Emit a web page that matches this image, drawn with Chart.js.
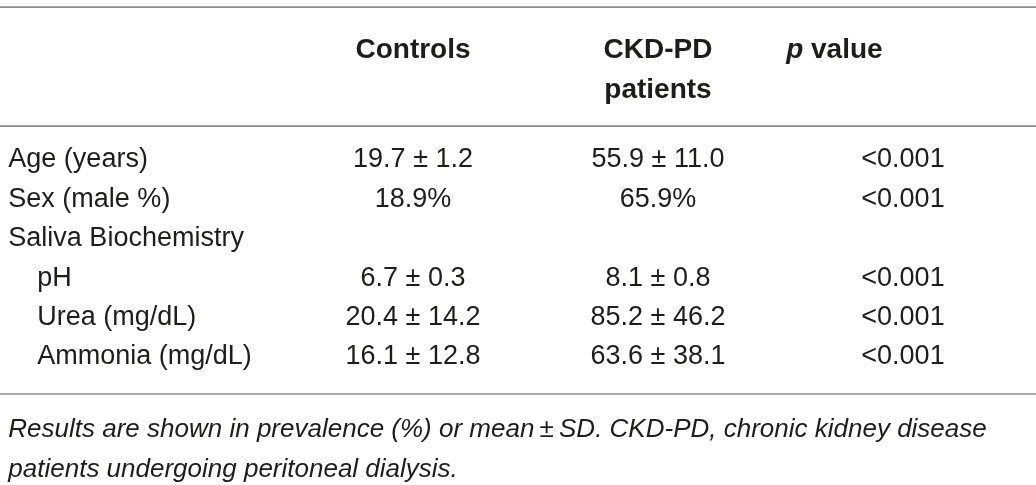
<!DOCTYPE html>
<html>
<head>
<meta charset="utf-8">
<script src="https://cdn.jsdelivr.net/npm/chart.js@4.4.1/dist/chart.umd.min.js"></script>
<style>
  html, body { margin: 0; padding: 0; background: #ffffff; }
  #wrap { width: 1036px; height: 485px; position: relative; }
</style>
</head>
<body>
<div id="wrap"><canvas id="tableChart"></canvas></div>
<script>
// Table content
const columnHeaders = [['Controls'], ['CKD-PD', 'patients'], ['p value']];
const rowLabels = ['Age (years)', 'Sex (male %)', 'Saliva Biochemistry', 'pH', 'Urea (mg/dL)', 'Ammonia (mg/dL)'];
const rowIndent = [0, 0, 0, 1, 1, 1];
const rowUnits = ['', '%', '', '', '', ''];
const controlsMean = [19.7, 18.9, null, 6.7, 20.4, 16.1];
const controlsSD = [1.2, null, null, 0.3, 14.2, 12.8];
const ckdMean = [55.9, 65.9, null, 8.1, 85.2, 63.6];
const ckdSD = [11.0, null, null, 0.8, 46.2, 38.1];
const pValues = ['<0.001', '<0.001', null, '<0.001', '<0.001', '<0.001'];
const footnote = [
    'Results are shown in prevalence (%) or mean\u2009\u00b1\u2009SD. CKD-PD, chronic kidney disease',
    'patients undergoing peritoneal dialysis.'
];

// layout (scale units: columns on x, rows on y)
const X_MIN = -0.686, X_MAX = 3.543;
const Y_MIN = -4.01, Y_MAX = 8.30;
const LABEL_X = -0.652;
const INDENT = 0.118;
const HEADER_Y = [-2.79, -1.78];
const RULES_Y = [-3.83, -0.81, 5.99];
const FOOT_Y = [6.85, 7.87];
const TEXT_NUDGE = 2; // px, canvas 'middle' sits a bit high for this font

const TEXT = '#1d1d1b';
const FONT = '"Liberation Sans", Arial, sans-serif';

function fmt(mean, sd, unit) {
    if (mean == null) return null;
    if (sd == null) return mean.toFixed(1) + unit;
    return mean.toFixed(1) + ' \u00b1 ' + sd.toFixed(1);
}

// build cell points from the arrays
const labelPoints = rowLabels.map((t, r) => ({ x: LABEL_X + rowIndent[r] * INDENT, y: r, text: [[t, '']] }));
const valuePoints = [];
rowLabels.forEach((t, r) => {
    const c = fmt(controlsMean[r], controlsSD[r], rowUnits[r]);
    const k = fmt(ckdMean[r], ckdSD[r], rowUnits[r]);
    if (c) valuePoints.push({ x: 1, y: r, text: [[c, '']] });
    if (k) valuePoints.push({ x: 2, y: r, text: [[k, '']] });
    if (pValues[r]) valuePoints.push({ x: 3, y: r, text: [[pValues[r], '']] });
});
const headerPoints = [];
columnHeaders.forEach((lines, c) => {
    lines.forEach((line, l) => {
        let parts = [[line, 'bold']];
        let x = c + 1;
        if (line === 'p value') { parts = [['p', 'italic bold'], [' value', 'bold']]; x = 2.72; }
        headerPoints.push({ x: x, y: HEADER_Y[l], text: parts });
    });
});
const footPoints = footnote.map((t, i) => ({ x: LABEL_X, y: FOOT_Y[i], text: [[t, 'italic']] }));

function ruleDataset(yv) {
    return {
        type: 'line',
        data: [{ x: X_MIN, y: yv }, { x: X_MAX, y: yv }],
        borderColor: '#8c8c8c',
        borderWidth: 1.6,
        pointRadius: 0
    };
}

function textDataset(points, size, align) {
    return { data: points, pointRadius: 0, cellSize: size, cellAlign: align };
}

// draws the text of every cell at the point the scales placed it
const cellTextPlugin = {
    id: 'cellText',
    afterDatasetsDraw(chart) {
        const ctx = chart.ctx;
        chart.data.datasets.forEach((ds, i) => {
            if (!ds.cellSize) return;
            const meta = chart.getDatasetMeta(i);
            meta.data.forEach((pt, j) => {
                const parts = ds.data[j].text;
                ctx.save();
                ctx.fillStyle = TEXT;
                ctx.textBaseline = 'middle';
                ctx.textAlign = 'left';
                let total = 0;
                parts.forEach(p => {
                    ctx.font = (p[1] ? p[1] + ' ' : '') + ds.cellSize + 'px ' + FONT;
                    total += ctx.measureText(p[0]).width;
                });
                let x = ds.cellAlign === 'center' ? pt.x - total / 2 : pt.x;
                parts.forEach(p => {
                    ctx.font = (p[1] ? p[1] + ' ' : '') + ds.cellSize + 'px ' + FONT;
                    ctx.fillText(p[0], x, pt.y + TEXT_NUDGE);
                    x += ctx.measureText(p[0]).width;
                });
                ctx.restore();
            });
        });
    }
};

const ctx = document.getElementById('tableChart').getContext('2d');
const tableChart = new Chart(ctx, {
    type: 'scatter',
    data: {
        datasets: [
            ...RULES_Y.map(ruleDataset),
            textDataset(labelPoints, 27, 'left'),
            textDataset(valuePoints, 27, 'center'),
            textDataset(headerPoints, 28, 'center'),
            textDataset(footPoints, 26, 'left')
        ]
    },
    options: {
        responsive: true,
        maintainAspectRatio: false,
        animation: false,
        events: [],
        layout: { padding: 0 },
        plugins: {
            legend: { display: false },
            tooltip: { enabled: false }
        },
        scales: {
            x: { type: 'linear', min: X_MIN, max: X_MAX, display: false },
            y: { type: 'linear', min: Y_MIN, max: Y_MAX, reverse: true, display: false }
        }
    },
    plugins: [cellTextPlugin]
});
</script>
</body>
</html>
